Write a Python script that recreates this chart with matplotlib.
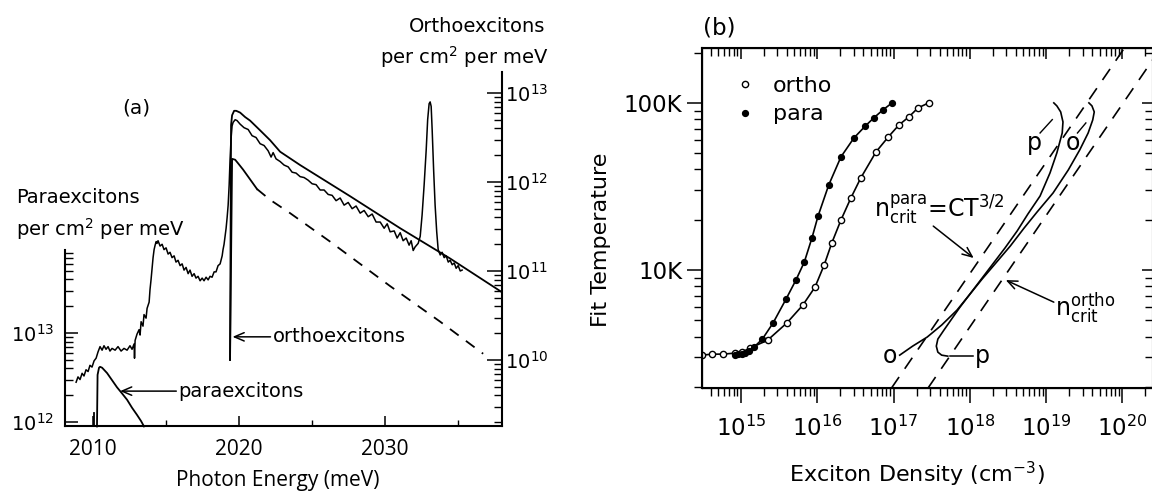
import numpy as np
import matplotlib
matplotlib.use('Agg')
from matplotlib import pyplot as plt
from matplotlib import ticker
from matplotlib.legend_handler import HandlerLine2D

plt.rcParams['font.family'] = ['DejaVu Sans']
plt.rcParams['mathtext.default'] = 'regular'

# ---- panel (a): luminescence spectrum, photon energy in meV ----
# measured spectrum, log10 of orthoexcitons per cm^2 per meV (right axis units)
spec_E = [2008.84, 2008.97, 2009.11, 2009.25, 2009.38, 2009.52, 2009.66, 2009.79, 2009.93, 2010.07,
          2010.21, 2010.34, 2010.48, 2010.62, 2010.75, 2010.89, 2011.03, 2011.16, 2011.30, 2011.51,
          2011.71, 2011.92, 2012.12, 2012.33, 2012.53, 2012.67, 2012.81, 2012.84, 2012.88, 2013.01,
          2013.15, 2013.22, 2013.29, 2013.42, 2013.49, 2013.63, 2013.70, 2013.84, 2013.90, 2013.97,
          2014.04, 2014.11, 2014.18, 2014.25, 2014.32, 2014.38, 2014.45, 2014.59, 2014.73, 2014.86,
          2015.00, 2015.14, 2015.27, 2015.41, 2015.55, 2015.68, 2015.82, 2015.96, 2016.10, 2016.23,
          2016.37, 2016.51, 2016.64, 2016.78, 2016.92, 2017.05, 2017.19, 2017.33, 2017.47, 2017.60,
          2017.74, 2017.88, 2018.01, 2018.15, 2018.29, 2018.42, 2018.56, 2018.70, 2018.84, 2018.90,
          2018.97, 2019.04, 2019.11, 2019.18, 2019.25, 2019.32, 2019.38, 2019.45, 2019.52, 2019.59,
          2019.73, 2019.86, 2020.07, 2020.34, 2020.62, 2020.89, 2021.16, 2021.44, 2021.71, 2021.99,
          2022.19, 2022.33, 2022.53, 2022.81, 2023.08, 2023.36, 2023.63, 2023.90, 2024.18, 2024.45,
          2024.73, 2025.00, 2025.27, 2025.55, 2025.82, 2026.10, 2026.37, 2026.64, 2026.92, 2027.19,
          2027.47, 2027.74, 2028.01, 2028.29, 2028.56, 2028.84, 2029.11, 2029.38, 2029.66, 2029.93,
          2030.14, 2030.34, 2030.62, 2030.82, 2031.03, 2031.23, 2031.44, 2031.64, 2031.78, 2031.92,
          2032.05, 2032.26, 2032.40, 2032.53, 2032.67, 2032.81, 2032.91, 2033.01, 2033.08, 2033.15,
          2033.22, 2033.32, 2033.42, 2033.53, 2033.63, 2033.77, 2033.90, 2034.04, 2034.18, 2034.32,
          2034.45, 2034.59, 2034.73, 2034.86, 2035.00, 2035.14, 2035.27]
spec_log = [9.75, 9.81, 9.78, 9.85, 9.82, 9.89, 9.87, 9.94, 9.92, 9.99,
            10.02, 10.09, 10.15, 10.11, 10.16, 10.12, 10.15, 10.10, 10.13, 10.11,
            10.15, 10.10, 10.13, 10.11, 10.16, 10.12, 10.18, 10.02, 10.22, 10.29,
            10.34, 10.28, 10.43, 10.38, 10.51, 10.47, 10.58, 10.65, 10.79, 10.90,
            11.03, 11.15, 11.24, 11.29, 11.33, 11.31, 11.34, 11.28, 11.30, 11.24,
            11.26, 11.19, 11.21, 11.15, 11.17, 11.10, 11.12, 11.06, 11.08, 11.01,
            11.04, 10.97, 11.01, 10.94, 10.97, 10.92, 10.94, 10.89, 10.92, 10.89,
            10.93, 10.90, 10.94, 10.93, 10.99, 10.99, 11.06, 11.08, 11.17, 11.24,
            11.30, 11.39, 11.48, 11.60, 11.74, 11.97, 12.25, 12.49, 12.63, 12.67,
            12.70, 12.69, 12.65, 12.61, 12.59, 12.52, 12.50, 12.43, 12.41, 12.35,
            12.28, 12.33, 12.26, 12.23, 12.19, 12.17, 12.11, 12.10, 12.06, 12.05,
            12.02, 11.98, 11.97, 11.91, 11.91, 11.86, 11.85, 11.79, 11.82, 11.74,
            11.77, 11.70, 11.73, 11.65, 11.68, 11.61, 11.64, 11.55, 11.55, 11.48,
            11.53, 11.44, 11.45, 11.37, 11.43, 11.34, 11.37, 11.29, 11.34, 11.23,
            11.27, 11.31, 11.39, 11.63, 11.97, 12.36, 12.70, 12.88, 12.90, 12.85,
            12.58, 12.13, 11.74, 11.44, 11.24, 11.18, 11.21, 11.15, 11.17, 11.10,
            11.12, 11.07, 11.09, 11.03, 11.06, 11.00, 11.01]

# orthoexciton fits (right axis units): full fit and the lower component
fit_E = [2019.38, 2019.45, 2019.52, 2019.66, 2019.80, 2020.07, 2020.41, 2020.75, 2021.44,
         2022.12, 2022.81, 2024.18, 2027.60, 2031.03, 2034.45, 2038.01]
fit_log = [10.00, 12.64, 12.75, 12.80, 12.80, 12.78, 12.73, 12.69, 12.58,
           12.47, 12.34, 12.19, 11.84, 11.48, 11.14, 10.76]
comp_E = [2019.38, 2019.52, 2019.73, 2019.93, 2020.27, 2020.75, 2021.23]
comp_log = [10.00, 12.26, 12.25, 12.21, 12.14, 12.03, 11.92]
comp_tail_E = [2021.23, 2022.12, 2023.49, 2026.23, 2030.34, 2033.77, 2036.71]
comp_tail_log = [11.92, 11.80, 11.65, 11.33, 10.83, 10.43, 10.07]

# paraexciton fit (left axis units)
para_E = [2010.27, 2010.31, 2010.41, 2010.48, 2010.62, 2010.96, 2011.30, 2011.64, 2011.99,
          2012.33, 2012.67, 2013.01, 2013.29, 2013.49]
para_log = [11.95, 12.53, 12.61, 12.62, 12.61, 12.55, 12.47, 12.39, 12.32,
            12.25, 12.16, 12.08, 12.01, 11.95]
para_edge_E = [2010.07, 2010.07]
para_edge_log = [11.95, 12.10]

# ---- panel (b): fit temperature vs exciton density ----
ortho_logn = [14.49, 14.62, 14.76, 14.92, 15.01, 15.12, 15.35, 15.60, 15.81, 15.97,
              16.09, 16.19, 16.31, 16.44, 16.57, 16.77, 16.93, 17.07, 17.20, 17.32, 17.46]
ortho_logT = [0.491, 0.497, 0.497, 0.503, 0.509, 0.533, 0.581, 0.683, 0.790, 0.898,
              1.030, 1.162, 1.299, 1.431, 1.551, 1.707, 1.796, 1.868, 1.916, 1.970, 2.000]
para_logn = [14.92, 14.96, 15.01, 15.05, 15.10, 15.17, 15.28, 15.42, 15.59, 15.72,
             15.83, 15.93, 16.01, 16.15, 16.31, 16.48, 16.63, 16.74, 16.86, 16.98]
para_logT = [0.491, 0.497, 0.497, 0.503, 0.515, 0.539, 0.587, 0.683, 0.826, 0.940,
             1.048, 1.192, 1.323, 1.509, 1.677, 1.790, 1.862, 1.910, 1.958, 2.000]

# gas trajectories in the n-T plane
traj_o_logn = [17.08, 17.25, 17.44, 17.63, 17.83, 17.98, 18.16, 18.34, 18.53, 18.71,
               18.88, 19.09, 19.29, 19.44, 19.55, 19.61, 19.63, 19.60, 19.56]
traj_o_logT = [0.491, 0.545, 0.599, 0.671, 0.760, 0.844, 0.946, 1.042, 1.144, 1.251,
               1.347, 1.461, 1.599, 1.719, 1.820, 1.898, 1.946, 1.982, 2.000]
traj_p_logn = [17.71, 17.63, 17.58, 17.56, 17.58, 17.66, 17.77, 17.87, 17.98, 18.13,
               18.30, 18.46, 18.62, 18.76, 18.92, 19.05, 19.14, 19.21, 19.22, 19.19,
               19.14, 19.10]
traj_p_logT = [0.485, 0.491, 0.509, 0.545, 0.587, 0.641, 0.713, 0.778, 0.844, 0.934,
               1.036, 1.132, 1.234, 1.335, 1.443, 1.581, 1.701, 1.820, 1.886, 1.946,
               1.982, 2.000]

# critical density lines n_crit = C T^(3/2), ortho = 3 x para
crit_T = [1.97, 213.0]
crit_para_n = [9.4e16, 1.06e20]
crit_ortho_n = [2.83e17, 3.18e20]

W, H = 1152, 494


def fx(px):
    return px / W


def fy(py):
    return 1 - py / H


fig = plt.figure(figsize=(W / 100, H / 100), dpi=100)

# ===================== (a) =====================
ax = fig.add_axes([fx(65), fy(426), (502 - 65) / W, (426 - 72) / H])
axr = ax.twinx()

ax.set_xlim(2008.08, 2038.0)
ax.set_yscale('log')
ax.set_ylim(10 ** 11.955, 10 ** 15.933)
axr.set_yscale('log')
axr.set_ylim(10 ** 9.258, 10 ** 13.236)

lw = 1.3
axr.plot(spec_E, 10 ** np.array(spec_log), color='k', lw=1.1)
axr.plot(fit_E, 10 ** np.array(fit_log), color='k', lw=lw)
axr.plot(comp_E, 10 ** np.array(comp_log), color='k', lw=lw)
axr.plot(comp_tail_E, 10 ** np.array(comp_tail_log), color='k', lw=lw,
         linestyle=(0, (6, 5)))
ax.plot(para_E, 10 ** np.array(para_log), color='k', lw=lw, clip_on=False)
ax.plot(para_edge_E, 10 ** np.array(para_edge_log), color='k', lw=lw)

for sp in ['top', 'right']:
    ax.spines[sp].set_visible(False)
for sp in ['top', 'left', 'bottom']:
    axr.spines[sp].set_visible(False)
ax.spines['left'].set_bounds(10 ** 11.955, 8.6e13)
for sp in [ax.spines['left'], ax.spines['bottom'], axr.spines['right']]:
    sp.set_linewidth(1.5)

ax.yaxis.set_major_locator(ticker.FixedLocator([1e12, 1e13]))
ax.yaxis.set_minor_locator(ticker.FixedLocator(
    [m * 1e12 for m in range(2, 10)] + [m * 1e13 for m in range(2, 9)]))
ax.yaxis.set_major_formatter(ticker.FixedFormatter([r'$10^{12}$', r'$10^{13}$']))
ax.yaxis.set_minor_formatter(ticker.NullFormatter())
ax.tick_params(axis='y', which='major', direction='in', length=9.5, width=1.1,
               labelsize=14, pad=8)
ax.tick_params(axis='y', which='minor', direction='in', length=5.5, width=1.0)

ax.xaxis.set_major_locator(ticker.MultipleLocator(10))
ax.xaxis.set_minor_locator(ticker.MultipleLocator(5))
ax.tick_params(axis='x', which='major', direction='in', length=7.5, width=1.1, pad=9)
ax.tick_params(axis='x', which='minor', direction='in', length=4, width=1.0)
for lab in ax.get_xticklabels():
    lab.set_fontfamily('Open Sans')
    lab.set_fontsize(15)

axr.yaxis.set_major_locator(ticker.LogLocator(base=10))
axr.yaxis.set_minor_locator(ticker.LogLocator(base=10, subs=np.arange(2, 10)))
axr.yaxis.set_major_formatter(ticker.LogFormatterMathtext())
axr.yaxis.set_minor_formatter(ticker.NullFormatter())
axr.tick_params(axis='y', which='major', direction='in', length=10.5, width=1.1,
                labelsize=14, pad=2)
axr.tick_params(axis='y', which='minor', direction='in', length=5.5, width=1.0)

arrow = dict(arrowstyle='->,head_length=0.7,head_width=0.3', color='k', lw=1.1,
             shrinkA=0, shrinkB=0)
y_o = 10 ** 10.26
axr.annotate('', xy=(2019.55, y_o), xytext=(2022.15, y_o), arrowprops=arrow)
axr.text(2022.3, y_o, 'orthoexcitons', fontsize=14, va='center', ha='left')
y_p = 10 ** 9.65
axr.annotate('', xy=(2011.85, y_p), xytext=(2015.7, y_p), arrowprops=arrow)
axr.text(2015.85, y_p, 'paraexcitons', fontsize=14, va='center', ha='left')

fig.text(fx(136), fy(108), '(a)', fontsize=14.5, ha='center', va='center')
fig.text(fx(78), fy(197), 'Paraexcitons', fontsize=14, ha='center', va='center')
fig.text(fx(100), fy(229), r'per cm$^2$ per meV', fontsize=14, ha='center', va='center')
fig.text(fx(477), fy(27), 'Orthoexcitons', fontsize=14, ha='center', va='center')
fig.text(fx(464), fy(57), r'per cm$^2$ per meV', fontsize=14, ha='center', va='center')
fig.text(fx(278), fy(480), 'Photon Energy (meV)', fontsize=15, ha='center', va='center',
         family='Open Sans')

# ===================== (b) =====================
bx = fig.add_axes([fx(702), fy(388), (1153 - 702) / W, (388 - 48) / H])
bx.set_xscale('log')
bx.set_yscale('log')
xl = (10 ** 14.489, 10 ** 20.40)
yl = (1.97, 213.0)
bx.set_xlim(*xl)
bx.set_ylim(*yl)

dash = (0, (8, 6))
bx.plot(crit_para_n, crit_T, color='k', lw=1.2, linestyle=dash)
bx.plot(crit_ortho_n, crit_T, color='k', lw=1.2, linestyle=dash)
bx.plot(10 ** np.array(traj_o_logn), 10 ** np.array(traj_o_logT), color='k', lw=1.2)
bx.plot(10 ** np.array(traj_p_logn), 10 ** np.array(traj_p_logT), color='k', lw=1.2)
h_o, = bx.plot(10 ** np.array(ortho_logn), 10 ** np.array(ortho_logT), color='k', lw=1.2,
               marker='o', ms=4.5, mfc='white', mew=1.0, label='ortho')
h_p, = bx.plot(10 ** np.array(para_logn), 10 ** np.array(para_logT), color='k', lw=1.2,
               marker='o', ms=4.2, mfc='k', label='para')

leg = bx.legend(handles=[h_o, h_p], labels=['ortho', 'para'], loc='upper left',
                bbox_to_anchor=(fx(734), fy(76)), bbox_transform=fig.transFigure,
                frameon=False, fontsize=16, handlelength=1.0, handletextpad=0.75,
                labelspacing=0.38, borderpad=0, borderaxespad=0,
                handler_map={h_o: HandlerLine2D(marker_pad=0, numpoints=1),
                             h_p: HandlerLine2D(marker_pad=0, numpoints=1)})
for line in leg.get_lines():
    line.set_linestyle('none')

txt = dict(fontsize=17, color='k')
bx.text(10 ** 16.74, 10 ** 1.36, r'$n^{para}_{crit}$=CT$^{3/2}$', ha='left', va='center', **txt)
bx.annotate('', xy=(10 ** 18.05, 10 ** 1.072), xytext=(10 ** 17.52, 10 ** 1.263),
            arrowprops=arrow)
bx.text(10 ** 19.12, 10 ** 0.77, r'$n^{ortho}_{crit}$', ha='left', va='center', **txt)
bx.annotate('', xy=(10 ** 18.47, 10 ** 0.94), xytext=(10 ** 19.10, 10 ** 0.808),
            arrowprops=arrow)

bx.text(10 ** 16.95, 10 ** 0.485, 'o', ha='center', va='center', **txt)
bx.plot([10 ** 17.74, 10 ** 18.04], [10 ** 0.485, 10 ** 0.485], color='k', lw=1.1)
bx.text(10 ** 18.07, 10 ** 0.485, 'p', ha='left', va='center', **txt)
bx.text(10 ** 18.84, 10 ** 1.76, 'p', ha='center', va='center', **txt)
bx.plot([10 ** 18.92, 10 ** 19.08], [10 ** 1.82, 10 ** 1.90], color='k', lw=1.0)
bx.text(10 ** 19.35, 10 ** 1.76, 'o', ha='center', va='center', **txt)
bx.plot([10 ** 19.41, 10 ** 19.52], [10 ** 1.82, 10 ** 1.88], color='k', lw=1.0)

for sp in bx.spines.values():
    sp.set_linewidth(1.5)
bx.xaxis.set_major_locator(ticker.LogLocator(base=10))
bx.xaxis.set_minor_locator(ticker.LogLocator(base=10, subs=np.arange(2, 10)))
bx.xaxis.set_major_formatter(ticker.LogFormatterMathtext())
bx.xaxis.set_minor_formatter(ticker.NullFormatter())
bx.yaxis.set_major_locator(ticker.FixedLocator([10, 100]))
bx.yaxis.set_major_formatter(ticker.FixedFormatter(['10K', '100K']))
bx.yaxis.set_minor_locator(ticker.LogLocator(base=10, subs=np.arange(2, 10)))
bx.yaxis.set_minor_formatter(ticker.NullFormatter())
bx.tick_params(axis='both', which='major', direction='out', length=11, width=1.1,
               labelsize=16.5, top=False, right=False)
bx.tick_params(axis='both', which='minor', direction='out', length=5.5, width=1.0,
               top=False, right=False)
bx.tick_params(axis='x', which='major', pad=9)
bx.tick_params(axis='y', which='major', pad=3)

bt = bx.twiny()
bt.set_xscale('log')
bt.set_xlim(*xl)
bt.xaxis.set_minor_locator(ticker.LogLocator(base=10, subs=np.arange(2, 10)))
bt.tick_params(axis='x', which='major', direction='in', length=8, width=1.1, labeltop=False)
bt.tick_params(axis='x', which='minor', direction='in', length=5.5, width=1.0)
br = bx.twinx()
br.set_yscale('log')
br.set_ylim(*yl)
br.yaxis.set_minor_locator(ticker.LogLocator(base=10, subs=np.arange(2, 10)))
br.tick_params(axis='y', which='major', direction='in', length=8, width=1.1, labelright=False)
br.tick_params(axis='y', which='minor', direction='in', length=5.5, width=1.0)

fig.text(fx(719), fy(28), '(b)', fontsize=16.5, ha='center', va='center')
fig.text(fx(601), fy(240), 'Fit Temperature', fontsize=16, rotation=90,
         ha='center', va='center')
fig.text(fx(917), fy(474), r'Exciton Density (cm$^{-3}$)', fontsize=16,
         ha='center', va='center')

fig.savefig('out.png', dpi=100)
